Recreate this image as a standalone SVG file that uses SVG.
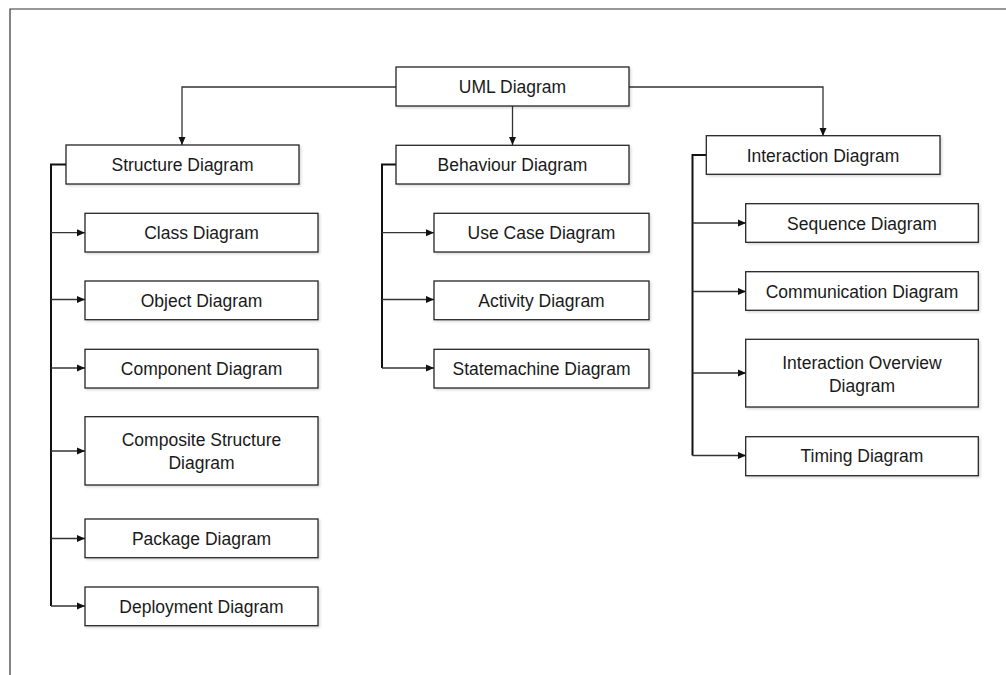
<svg xmlns="http://www.w3.org/2000/svg" width="1006" height="675" viewBox="0 0 1006 675">
<style>
.box{fill:#fff;stroke:#262626;stroke-width:1.3;filter:url(#sh)}
.t{font-family:"Liberation Sans",Arial,sans-serif;font-size:17.5px;fill:#1a1a1a;text-anchor:middle}
.c{fill:none;stroke:#333;stroke-width:1.3}
.bus{fill:none;stroke:#111;stroke-width:2}
</style>
<defs>
<marker id="ah" markerWidth="8" markerHeight="8" refX="8" refY="4" orient="auto" markerUnits="userSpaceOnUse">
<path d="M0,0.5 L8,4 L0,7.5 Z" fill="#111"/>
</marker>
<filter id="sh" x="-5%" y="-10%" width="110%" height="130%">
<feDropShadow dx="1.5" dy="1.5" stdDeviation="1" flood-color="#000" flood-opacity="0.15"/>
</filter>
</defs>
<rect width="1006" height="675" fill="#fff"/>
<path d="M10,675 V9 H1006" fill="none" stroke="#333" stroke-width="1.2"/>

<g id="connectors">
<path class="c" d="M396,87 H182 V145" marker-end="url(#ah)"/>
<path class="c" d="M512.5,106 V145" marker-end="url(#ah)"/>
<path class="c" d="M629,87 H823 V136" marker-end="url(#ah)"/>

<path class="bus" d="M66,164.5 H51 V606"/>
<path class="c" d="M51,232.7 H85" marker-end="url(#ah)"/>
<path class="c" d="M51,299.5 H85" marker-end="url(#ah)"/>
<path class="c" d="M51,368 H85" marker-end="url(#ah)"/>
<path class="c" d="M51,451 H85" marker-end="url(#ah)"/>
<path class="c" d="M51,538.5 H85" marker-end="url(#ah)"/>
<path class="c" d="M51,606 H85" marker-end="url(#ah)"/>

<path class="bus" d="M396,164.5 H382 V368"/>
<path class="c" d="M382,232.7 H434" marker-end="url(#ah)"/>
<path class="c" d="M382,299.5 H434" marker-end="url(#ah)"/>
<path class="c" d="M382,368 H434" marker-end="url(#ah)"/>

<path class="bus" d="M706,155 H692.5 V455.5"/>
<path class="c" d="M692.5,223 H746" marker-end="url(#ah)"/>
<path class="c" d="M692.5,291.5 H746" marker-end="url(#ah)"/>
<path class="c" d="M692.5,373 H746" marker-end="url(#ah)"/>
<path class="c" d="M692.5,455.5 H746" marker-end="url(#ah)"/>
</g>

<g id="uml"><rect class="box" x="396" y="67" width="233" height="39"/><text class="t" x="512.5" y="93">UML Diagram</text></g>

<g id="structure"><rect class="box" x="66" y="145" width="233" height="39"/><text class="t" x="182.5" y="171">Structure Diagram</text></g>
<g id="class"><rect class="box" x="85" y="213.3" width="233" height="38.7"/><text class="t" x="201.5" y="239">Class Diagram</text></g>
<g id="object"><rect class="box" x="85" y="281" width="233" height="38.7"/><text class="t" x="201.5" y="306.5">Object Diagram</text></g>
<g id="component"><rect class="box" x="85" y="349.3" width="233" height="38.7"/><text class="t" x="201.5" y="375">Component Diagram</text></g>
<g id="composite"><rect class="box" x="85" y="416.7" width="233" height="68.3"/><text class="t" x="201.5" y="445.5">Composite Structure</text><text class="t" x="201.5" y="469">Diagram</text></g>
<g id="package"><rect class="box" x="85" y="519" width="233" height="38.7"/><text class="t" x="201.5" y="545">Package Diagram</text></g>
<g id="deployment"><rect class="box" x="85" y="587" width="233" height="38.7"/><text class="t" x="201.5" y="612.5">Deployment Diagram</text></g>

<g id="behaviour"><rect class="box" x="396" y="145.3" width="233" height="38.7"/><text class="t" x="512.5" y="171">Behaviour Diagram</text></g>
<g id="usecase"><rect class="box" x="434" y="213.3" width="215" height="38.7"/><text class="t" x="541.5" y="239">Use Case Diagram</text></g>
<g id="activity"><rect class="box" x="434" y="281" width="215" height="38.7"/><text class="t" x="541.5" y="306.5">Activity Diagram</text></g>
<g id="statemachine"><rect class="box" x="434" y="349.3" width="215" height="38.7"/><text class="t" x="541.5" y="375">Statemachine Diagram</text></g>

<g id="interaction"><rect class="box" x="706.3" y="135.7" width="233.7" height="38.6"/><text class="t" x="823" y="161.5">Interaction Diagram</text></g>
<g id="sequence"><rect class="box" x="745.7" y="203.7" width="232.6" height="38.6"/><text class="t" x="862" y="229.5">Sequence Diagram</text></g>
<g id="communication"><rect class="box" x="745.7" y="271.7" width="232.6" height="38.6"/><text class="t" x="862" y="297.5">Communication Diagram</text></g>
<g id="overview"><rect class="box" x="745.7" y="339.3" width="232.6" height="67.7"/><text class="t" x="862" y="368.5">Interaction Overview</text><text class="t" x="862" y="392">Diagram</text></g>
<g id="timing"><rect class="box" x="745.7" y="436.7" width="232.6" height="39"/><text class="t" x="862" y="462">Timing Diagram</text></g>
</svg>
